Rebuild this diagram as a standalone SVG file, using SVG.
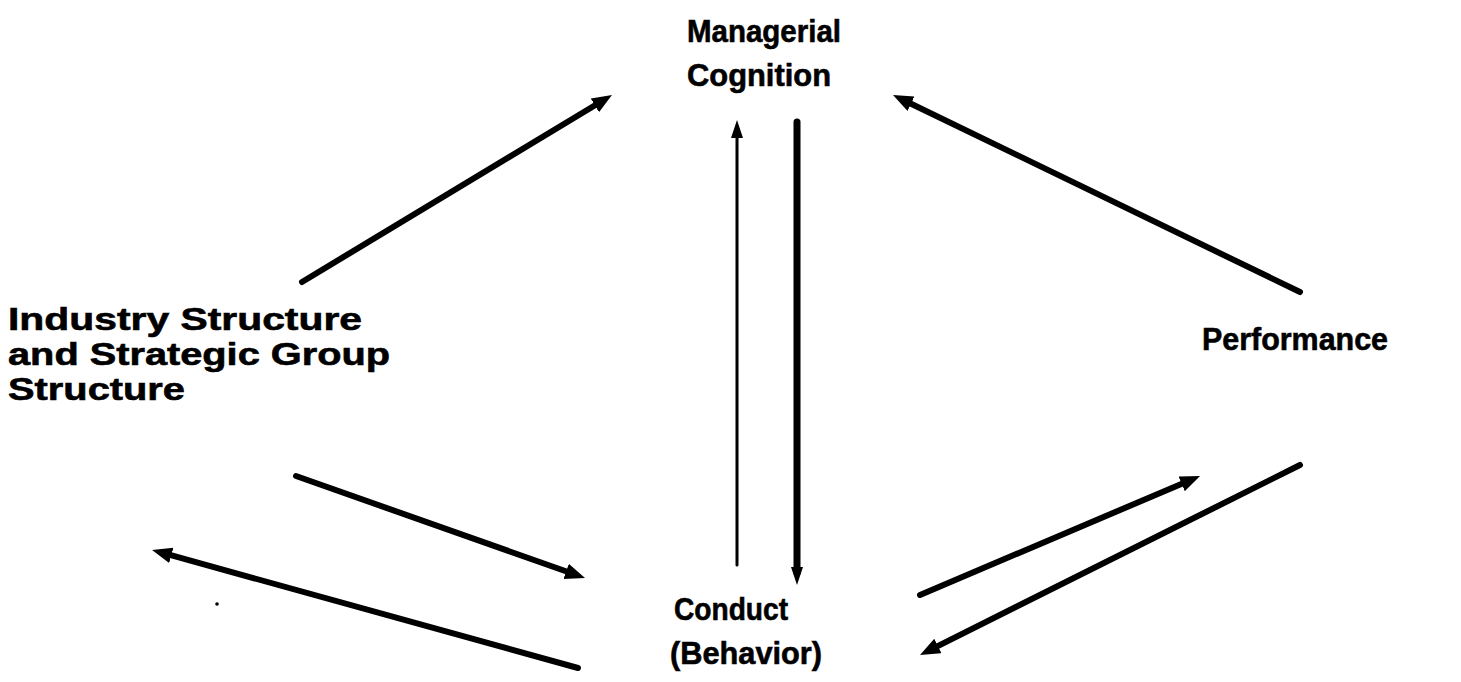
<svg xmlns="http://www.w3.org/2000/svg" width="1461" height="682" viewBox="0 0 1461 682">
<style>
.t{font-family:"Liberation Sans",Arial,sans-serif;font-weight:bold;font-size:32px;fill:#000;stroke:#000;stroke-width:0.6}
.c{stroke:#000;fill:none;stroke-linecap:round}
.thick{stroke-width:6}
.thin{stroke-width:3}
</style>
<defs>
<marker id="ah" markerUnits="userSpaceOnUse" markerWidth="22" markerHeight="18" refX="8" refY="8" orient="auto" viewBox="0 0 22 18">
<path d="M0,0 L20,8 L0,16 z" fill="#000"/>
</marker>
<marker id="ahs" markerUnits="userSpaceOnUse" markerWidth="20" markerHeight="14" refX="6" refY="6" orient="auto" viewBox="0 0 20 14">
<path d="M0,0 L18,6 L0,12 z" fill="#000"/>
</marker>
</defs>
<rect width="1461" height="682" fill="#fff"/>
<g id="connectors">
<line class="c thick" x1="302" y1="282" x2="601.7" y2="101.2" marker-end="url(#ah)"/>
<line class="c thick" x1="1300" y1="292" x2="903.8" y2="100.2" marker-end="url(#ah)"/>
<line class="c thin" x1="737" y1="565" x2="737" y2="132" marker-end="url(#ahs)"/>
<line class="c" stroke-width="7" x1="797" y1="122" x2="797" y2="573" stroke-linecap="butt" marker-end="url(#ahs)"/>
<line class="c thick" x1="296" y1="476" x2="573.7" y2="574" marker-end="url(#ah)"/>
<line class="c thick" x1="578" y1="668" x2="163.6" y2="553.2" marker-end="url(#ah)"/>
<line class="c thick" x1="920" y1="595" x2="1189" y2="480.7" marker-end="url(#ah)"/>
<line class="c thick" x1="1300" y1="465" x2="930.7" y2="649.6" marker-end="url(#ah)"/>
</g>
<g id="managerial-cognition">
<text class="t" x="687" y="42" textLength="154" lengthAdjust="spacingAndGlyphs">Managerial</text>
<text class="t" x="687" y="86" textLength="144" lengthAdjust="spacingAndGlyphs">Cognition</text>
</g>
<g id="industry-structure">
<text class="t" x="8" y="330" textLength="354" lengthAdjust="spacingAndGlyphs">Industry Structure</text>
<text class="t" x="8" y="365" textLength="382" lengthAdjust="spacingAndGlyphs">and Strategic Group</text>
<text class="t" x="8" y="400" textLength="177" lengthAdjust="spacingAndGlyphs">Structure</text>
</g>
<g id="performance">
<text class="t" x="1202" y="350" textLength="186" lengthAdjust="spacingAndGlyphs">Performance</text>
</g>
<g id="conduct">
<text class="t" x="674" y="620" textLength="114" lengthAdjust="spacingAndGlyphs">Conduct</text>
<text class="t" x="670" y="664" textLength="152" lengthAdjust="spacingAndGlyphs">(Behavior)</text>
</g>
<circle cx="217" cy="604" r="1.8" fill="#000"/>
</svg>
